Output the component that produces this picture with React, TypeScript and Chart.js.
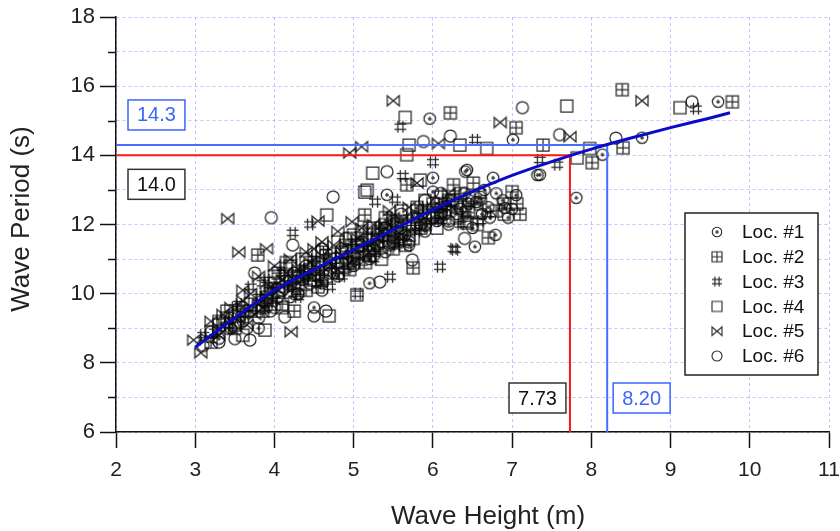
import React, { useEffect, useRef } from "react";
import { Chart, registerables } from "chart.js";

Chart.register(...registerables);

const FONT = "'Liberation Sans', Arial, Helvetica, sans-serif";

// ---------- data ----------
const seriesLabels = ["Loc. #1", "Loc. #2", "Loc. #3", "Loc. #4", "Loc. #5", "Loc. #6"];
const markerKinds = ["circleDot", "squarePlus", "hash", "square", "bowtie", "circle"];

const loc1 = [
  [3.3, 8.7], [3.6, 9.2], [3.9, 9.6], [4.1, 10.2], [4.3, 10.0], [4.4, 10.6], [4.6, 10.3], [4.7, 10.9],
  [4.8, 10.5], [4.9, 11.2], [5.0, 10.8], [5.1, 11.4], [5.2, 11.0], [5.3, 11.7], [5.4, 11.2], [5.42, 12.86],
  [5.5, 11.6], [5.6, 11.9], [5.7, 11.4], [5.8, 12.2], [5.9, 11.8], [5.96, 15.06], [6.0, 12.95], [6.0, 13.35],
  [6.05, 12.1], [6.1, 12.5], [6.2, 12.0], [6.25, 12.7], [6.3, 12.3], [6.41, 13.53], [6.43, 13.58], [6.45, 12.6],
  [6.5, 11.9], [6.53, 11.36], [6.6, 12.8], [6.7, 12.5], [6.76, 13.35], [6.79, 11.7], [6.8, 12.9], [6.91, 12.48],
  [6.95, 12.2], [7.01, 14.45], [7.05, 12.85], [7.32, 13.43], [7.35, 13.44], [7.81, 12.77], [8.14, 14.02],
  [8.64, 14.51], [9.6, 15.55], [3.8, 9.0], [4.5, 9.6], [5.2, 10.3],
  [4.2, 9.9], [4.35, 10.4], [4.75, 10.6], [5.05, 11.0], [5.25, 11.3], [5.45, 11.4], [5.65, 11.7], [5.85, 12.0],
  [6.15, 12.3], [6.35, 12.45], [6.55, 12.65], [6.65, 13.0], [6.72, 12.2], [6.88, 12.7], [7.0, 12.45],
  [3.45, 9.0], [3.7, 9.5], [4.05, 9.9], [4.55, 10.9], [5.15, 11.1], [5.35, 11.5], [5.55, 11.9], [5.75, 12.2],
  [6.4, 12.9], [6.62, 12.3],
];
const loc2 = [
  [3.2, 8.6], [3.5, 9.0], [3.7, 9.5], [3.79, 11.12], [3.9, 9.8], [4.0, 10.3], [4.1, 9.7], [4.25, 9.5],
  [4.3, 10.5], [4.4, 10.1], [4.5, 10.8], [4.6, 10.4], [4.7, 11.0], [4.8, 10.6], [4.9, 11.4], [5.0, 10.9],
  [5.1, 11.6], [5.14, 12.28], [5.2, 11.1], [5.3, 11.5], [5.4, 12.0], [5.5, 11.3], [5.6, 12.1], [5.67, 13.15],
  [5.7, 11.7], [5.8, 12.4], [5.9, 12.0], [6.0, 12.6], [6.1, 12.2], [6.22, 15.23], [6.26, 13.15], [6.3, 12.5],
  [6.4, 12.1], [6.51, 13.2], [6.56, 12.0], [6.6, 12.6], [6.7, 11.62], [6.8, 12.4], [7.05, 14.8], [7.06, 12.6],
  [7.1, 12.3], [7.39, 14.3], [8.01, 13.79], [8.39, 15.9], [8.4, 14.22], [9.78, 15.55], [3.4, 9.3], [4.15, 10.9],
  [5.75, 10.75],
  [3.95, 10.0], [4.2, 10.35], [4.45, 10.55], [4.55, 10.2], [4.85, 10.9], [5.05, 11.2], [5.25, 11.4], [5.45, 11.7],
  [5.55, 11.55], [5.85, 11.9], [6.05, 12.35], [6.2, 12.7], [6.35, 12.9], [6.9, 12.6], [7.0, 12.95],
  [3.3, 9.1], [3.6, 9.5], [3.85, 9.5], [4.05, 10.6], [4.65, 11.1], [4.95, 10.7], [5.35, 11.9], [5.65, 11.4],
  [6.15, 12.6], [6.45, 12.35],
];
const loc3 = [
  [3.1, 8.8], [3.4, 9.1], [3.6, 9.4], [3.8, 9.9], [3.9, 10.4], [4.0, 9.8], [4.1, 10.6], [4.2, 10.2],
  [4.23, 11.76], [4.3, 9.9], [4.4, 10.5], [4.5, 11.0], [4.6, 10.6], [4.7, 10.2], [4.8, 11.1], [4.9, 10.7],
  [5.0, 11.5], [5.05, 10.0], [5.1, 10.9], [5.2, 11.8], [5.27, 12.66], [5.3, 11.2], [5.4, 11.6], [5.46, 10.49],
  [5.5, 12.0], [5.52, 12.72], [5.59, 14.83], [5.6, 11.5], [5.7, 12.2], [5.8, 11.8], [5.9, 12.5], [6.0, 13.8],
  [6.09, 10.78], [6.1, 12.1], [6.2, 12.6], [6.26, 11.3], [6.28, 11.27], [6.4, 12.3], [6.53, 14.45], [6.6, 12.1],
  [7.35, 13.87], [7.57, 13.73], [9.32, 15.35], [4.45, 12.0], [3.7, 10.2], [5.62, 13.4],
  [3.5, 9.6], [3.95, 10.1], [4.15, 10.3], [4.35, 10.7], [4.55, 10.3], [4.75, 10.8], [4.95, 11.1], [5.15, 11.3],
  [5.35, 11.8], [5.55, 11.4], [5.75, 11.9], [5.95, 12.1], [6.15, 12.5], [6.35, 12.0], [6.7, 12.3],
  [3.25, 8.9], [3.55, 9.7], [3.85, 10.3], [4.25, 10.0], [4.65, 11.2], [4.85, 10.5], [5.25, 11.0], [5.45, 12.2],
  [5.85, 12.4], [6.45, 12.6],
];
const loc4 = [
  [3.2, 8.9], [3.4, 9.5], [3.6, 8.8], [3.7, 9.7], [3.88, 8.95], [3.9, 9.9], [4.0, 10.5], [4.1, 9.6],
  [4.2, 10.8], [4.3, 10.3], [4.4, 10.9], [4.5, 10.4], [4.6, 11.2], [4.66, 12.28], [4.69, 9.36], [4.7, 10.7],
  [4.8, 11.5], [4.9, 10.9], [5.0, 11.7], [5.04, 9.97], [5.1, 11.2], [5.14, 12.94], [5.17, 13.0], [5.2, 11.9],
  [5.24, 13.49], [5.3, 11.4], [5.4, 12.2], [5.5, 11.8], [5.6, 12.4], [5.65, 15.1], [5.67, 14.02], [5.7, 12.0],
  [5.84, 13.29], [5.9, 12.7], [6.0, 12.3], [6.1, 12.8], [6.2, 12.4], [6.34, 14.3], [6.43, 12.05], [6.5, 12.8],
  [6.68, 14.2], [6.9, 12.3], [7.69, 15.43], [7.82, 13.93], [7.98, 14.2], [9.12, 15.38], [5.7, 14.3], [3.5, 9.1],
  [3.8, 9.6], [4.05, 10.1], [4.25, 10.5], [4.45, 10.7], [4.65, 10.5], [4.85, 11.2], [5.05, 11.4], [5.25, 11.6],
  [5.35, 11.0], [5.55, 12.0], [5.75, 11.6], [5.95, 12.2], [6.05, 11.9], [6.25, 12.7], [6.55, 12.4],
  [3.3, 9.2], [3.55, 9.4], [3.95, 9.7], [4.35, 11.0], [4.55, 10.9], [4.95, 11.6], [5.15, 10.9], [5.45, 11.5],
  [5.8, 12.5], [6.3, 12.2],
];
const loc5 = [
  [2.98, 8.66], [3.07, 8.29], [3.2, 9.2], [3.3, 8.8], [3.41, 12.17], [3.45, 9.6], [3.5, 9.3], [3.6, 9.8],
  [3.65, 9.1], [3.7, 10.0], [3.8, 10.5], [3.85, 9.6], [3.9, 11.3], [3.95, 10.2], [4.0, 10.8], [4.1, 10.4],
  [4.21, 8.9], [4.2, 11.0], [4.3, 10.7], [4.4, 11.2], [4.5, 10.5], [4.6, 11.5], [4.7, 10.9], [4.8, 11.8],
  [4.95, 14.07], [4.98, 12.08], [5.0, 11.3], [5.1, 14.25], [5.1, 11.9], [5.3, 11.6], [5.5, 15.58], [5.5, 12.2],
  [5.7, 12.5], [5.8, 13.2], [6.07, 14.34], [6.2, 12.9], [6.85, 14.95], [7.73, 14.54], [8.64, 15.58], [4.55, 12.1],
  [3.55, 11.2],
  [3.35, 9.4], [3.75, 9.4], [3.9, 9.9], [4.05, 10.1], [4.15, 10.6], [4.35, 10.4], [4.45, 10.9], [4.65, 10.7],
  [4.85, 11.1], [5.05, 11.6], [5.2, 11.4], [5.4, 11.9], [5.6, 11.7], [5.9, 12.2], [6.1, 12.5],
  [3.15, 8.7], [3.4, 9.0], [3.6, 10.1], [3.8, 9.7], [4.25, 10.2], [4.5, 11.3], [4.75, 11.4], [4.95, 10.9],
  [5.25, 12.0], [5.45, 12.4],
];
const loc6 = [
  [3.1, 8.5], [3.3, 8.6], [3.4, 9.0], [3.5, 8.7], [3.6, 9.6], [3.69, 8.66], [3.8, 9.3], [3.9, 10.1],
  [3.96, 12.2], [4.0, 9.6], [4.13, 9.33], [4.2, 10.4], [4.23, 11.41], [4.3, 10.0], [4.4, 10.8], [4.5, 9.36],
  [4.55, 10.5], [4.6, 11.3], [4.74, 12.8], [4.8, 10.9], [4.9, 11.6], [5.0, 11.1], [5.1, 11.8], [5.2, 11.3],
  [5.33, 10.34], [5.4, 11.9], [5.42, 13.53], [5.5, 11.5], [5.6, 12.3], [5.74, 10.98], [5.8, 12.0], [5.88, 14.4],
  [5.9, 12.7], [6.0, 12.2], [6.1, 12.9], [6.22, 14.56], [6.3, 12.6], [6.4, 11.6], [6.6, 12.9], [7.13, 15.38],
  [7.6, 14.6], [8.31, 14.5], [9.27, 15.55], [3.75, 10.6], [4.65, 9.5],
  [3.55, 9.2], [3.85, 9.8], [4.1, 10.1], [4.25, 10.6], [4.45, 10.3], [4.7, 10.6], [4.9, 11.0], [5.1, 11.5],
  [5.3, 11.8], [5.5, 12.1], [5.7, 11.5], [5.9, 12.0], [6.05, 12.6], [6.2, 12.1], [6.45, 12.7],
  [3.2, 8.9], [3.45, 9.3], [3.65, 9.0], [3.95, 9.5], [4.35, 10.5], [4.6, 10.1], [4.85, 11.3], [5.25, 11.1],
  [5.6, 11.8], [6.1, 12.3],
];
const seriesData = [loc1, loc2, loc3, loc4, loc5, loc6];

// fitted curve
const fitH = [3.0, 3.5, 4.0, 4.5, 5.0, 5.5, 6.0, 6.5, 7.0, 7.5, 8.0, 8.5, 9.0, 9.5, 9.75];
const fitT = [8.45, 9.3, 10.1, 10.7, 11.27, 11.85, 12.42, 12.95, 13.42, 13.82, 14.18, 14.5, 14.8, 15.08, 15.23];

// reference cut lines [H, T]
const redCut = [7.73, 14.0];
const blueCut = [8.2, 14.3];
const redLabels = ["7.73", "14.0"];
const blueLabels = ["8.20", "14.3"];

const xRange = [2, 11];
const yRange = [6, 18];

// ---------- markers ----------
function makeMarker(kind: string, size: number, lw: number): HTMLCanvasElement {
  const c = document.createElement("canvas");
  const s = Math.ceil(size + 4);
  c.width = s;
  c.height = s;
  const g = c.getContext("2d") as CanvasRenderingContext2D;
  g.strokeStyle = "rgba(10,10,10,0.88)";
  g.lineWidth = lw;
  const m = s / 2;
  const r = size / 2;
  g.beginPath();
  if (kind === "circleDot") {
    g.arc(m, m, r * 0.95, 0, Math.PI * 2);
    g.moveTo(m - 2, m); g.lineTo(m + 2, m);
    g.moveTo(m, m - 2); g.lineTo(m, m + 2);
  } else if (kind === "squarePlus") {
    g.rect(m - r, m - r, 2 * r, 2 * r);
    g.moveTo(m, m - r); g.lineTo(m, m + r);
    g.moveTo(m - r, m); g.lineTo(m + r, m);
  } else if (kind === "hash") {
    const o = r * 0.42;
    g.moveTo(m - o, m - r); g.lineTo(m - o, m + r);
    g.moveTo(m + o, m - r); g.lineTo(m + o, m + r);
    g.moveTo(m - r, m - o); g.lineTo(m + r, m - o);
    g.moveTo(m - r, m + o); g.lineTo(m + r, m + o);
  } else if (kind === "square") {
    g.rect(m - r, m - r, 2 * r, 2 * r);
  } else if (kind === "bowtie") {
    const h = r * 0.85;
    g.moveTo(m - r, m - h); g.lineTo(m + r, m + h); g.lineTo(m + r, m - h); g.lineTo(m - r, m + h);
    g.closePath();
  } else {
    g.arc(m, m, r, 0, Math.PI * 2);
  }
  g.stroke();
  return c;
}

function drawBox(ctx: CanvasRenderingContext2D, text: string, left: number, cy: number, color: string, textColor: string, alignRight = false) {
  ctx.save();
  ctx.font = `20px ${FONT}`;
  const w = ctx.measureText(text).width + 18;
  const h = 30;
  const x = alignRight ? left - w : left;
  ctx.fillStyle = "#fff";
  ctx.fillRect(x, cy - h / 2, w, h);
  ctx.strokeStyle = color;
  ctx.lineWidth = 1.5;
  ctx.strokeRect(x, cy - h / 2, w, h);
  ctx.fillStyle = textColor;
  ctx.textAlign = "center";
  ctx.textBaseline = "middle";
  ctx.fillText(text, x + w / 2, cy + 1);
  ctx.restore();
}

export default function App() {
  const ref = useRef<HTMLCanvasElement | null>(null);

  useEffect(() => {
    if (!ref.current) return;
    const markers = markerKinds.map((k) => makeMarker(k, 12, 1.25));
    const legendMarkers = markerKinds.map((k) => makeMarker(k, 10, 1.1));

    const decor = {
      id: "decor",
      afterDraw(chart: any) {
        const ctx: CanvasRenderingContext2D = chart.ctx;
        const xs = chart.scales.x;
        const ys = chart.scales.y;
        ctx.save();
        // minor y ticks
        ctx.strokeStyle = "#111";
        ctx.lineWidth = 1.5;
        for (let v = yRange[0] + 1; v < yRange[1]; v += 2) {
          const y = Math.round(ys.getPixelForValue(v)) + 0.5;
          ctx.beginPath();
          ctx.moveTo(xs.left - 8, y);
          ctx.lineTo(xs.left, y);
          ctx.stroke();
        }
        // axis titles
        ctx.fillStyle = "#222";
        ctx.font = `26px ${FONT}`;
        ctx.textAlign = "center";
        ctx.textBaseline = "middle";
        ctx.fillText("Wave Height (m)", 488, 517);
        ctx.save();
        ctx.translate(22, 219);
        ctx.rotate(-Math.PI / 2);
        ctx.fillText("Wave Period (s)", 0, 0);
        ctx.restore();

        // labelled boxes
        const blue = "rgb(60,100,255)";
        const dark = "#333";
        drawBox(ctx, blueLabels[1], xs.left + 12, ys.getPixelForValue(blueCut[1]) - 30, blue, blue);
        drawBox(ctx, redLabels[1], xs.left + 12, ys.getPixelForValue(redCut[1]) + 29, dark, "#111");
        drawBox(ctx, redLabels[0], xs.getPixelForValue(redCut[0]) - 4, ys.bottom - 34, dark, "#111", true);
        drawBox(ctx, blueLabels[0], xs.getPixelForValue(blueCut[0]) + 6, ys.bottom - 34, blue, blue);

        // legend
        const lx = 685, ly = 213, lw = 133, lh = 162;
        ctx.fillStyle = "#fff";
        ctx.fillRect(lx, ly, lw, lh);
        ctx.strokeStyle = "#222";
        ctx.lineWidth = 1.5;
        ctx.strokeRect(lx, ly, lw, lh);
        ctx.font = `19px ${FONT}`;
        ctx.textAlign = "left";
        ctx.textBaseline = "middle";
        ctx.fillStyle = "#111";
        seriesLabels.forEach((lab, i) => {
          const y = ly + 19 + i * 24.8;
          const mk = legendMarkers[i];
          ctx.drawImage(mk, 717 - mk.width / 2, y - mk.height / 2);
          ctx.fillText(lab, 742, y + 1);
        });
        ctx.restore();
      },
    };

    const scatterSets = seriesData.map((d, i) => ({
      type: "scatter" as const,
      label: seriesLabels[i],
      data: d.map(([x, y]) => ({ x, y })),
      pointStyle: markers[i],
      pointRadius: 6,
      pointHoverRadius: 6,
      order: 3,
    }));

    const chart = new Chart(ref.current, {
      type: "scatter",
      data: {
        datasets: [
          {
            type: "line",
            label: "fit",
            data: fitH.map((x, i) => ({ x, y: fitT[i] })),
            borderColor: "rgb(10,10,200)",
            borderWidth: 3,
            pointRadius: 0,
            showLine: true,
            cubicInterpolationMode: "monotone",
            order: 0,
          } as any,
          {
            type: "line",
            label: "red",
            data: [
              { x: xRange[0], y: redCut[1] },
              { x: redCut[0], y: redCut[1] },
              { x: redCut[0], y: yRange[0] },
            ],
            borderColor: "rgb(255,20,20)",
            borderWidth: 2,
            pointRadius: 0,
            showLine: true,
            tension: 0,
            order: 1,
          } as any,
          {
            type: "line",
            label: "blue",
            data: [
              { x: xRange[0], y: blueCut[1] },
              { x: blueCut[0], y: blueCut[1] },
              { x: blueCut[0], y: yRange[0] },
            ],
            borderColor: "rgb(70,110,255)",
            borderWidth: 2,
            pointRadius: 0,
            showLine: true,
            tension: 0,
            order: 1,
          } as any,
          ...scatterSets,
        ],
      },
      options: {
        animation: false,
        responsive: false,
        maintainAspectRatio: false,
        layout: { padding: { top: 17, right: 11, left: 0, bottom: 0 } },
        plugins: { legend: { display: false }, tooltip: { enabled: false } },
        scales: {
          x: {
            type: "linear",
            min: xRange[0],
            max: xRange[1],
            afterFit: (s: any) => {
              s.height = 99;
              s.paddingLeft = 0;
              s.paddingRight = 0;
            },
            ticks: { stepSize: 1, color: "#222", font: { family: FONT, size: 21 }, padding: 10, autoSkip: false },
            grid: {
              color: "rgba(170,170,255,0.7)",
              lineWidth: 1,
              tickColor: "#111",
              tickLength: 16,
              tickWidth: 1.5,
            },
            border: { color: "#111", width: 1.5, dash: [3, 3] },
          },
          y: {
            type: "linear",
            min: yRange[0],
            max: yRange[1],
            afterFit: (s: any) => {
              s.width = 116;
              s.paddingTop = 0;
              s.paddingBottom = 0;
            },
            ticks: {
              stepSize: 1,
              autoSkip: false,
              color: "#222",
              font: { family: FONT, size: 22 },
              padding: 5,
              callback: (v: any) => (Number(v) % 2 === 0 ? String(v) : ""),
            },
            grid: {
              color: "rgba(170,170,255,0.7)",
              lineWidth: 1,
              tickColor: (c: any) => (c.tick && c.tick.value % 2 === 0 ? "#111" : "rgba(0,0,0,0)"),
              tickLength: 16,
              tickWidth: 1.5,
            },
            border: { color: "#111", width: 1.5, dash: [3, 3] },
          },
        },
      },
      plugins: [decor],
    } as any);
    return () => chart.destroy();
  }, []);

  return (
    <div style={{ position: "absolute", left: 0, top: 0, width: 840, height: 531, background: "#fff" }}>
      <canvas ref={ref} width={840} height={531} style={{ display: "block" }} />
    </div>
  );
}
